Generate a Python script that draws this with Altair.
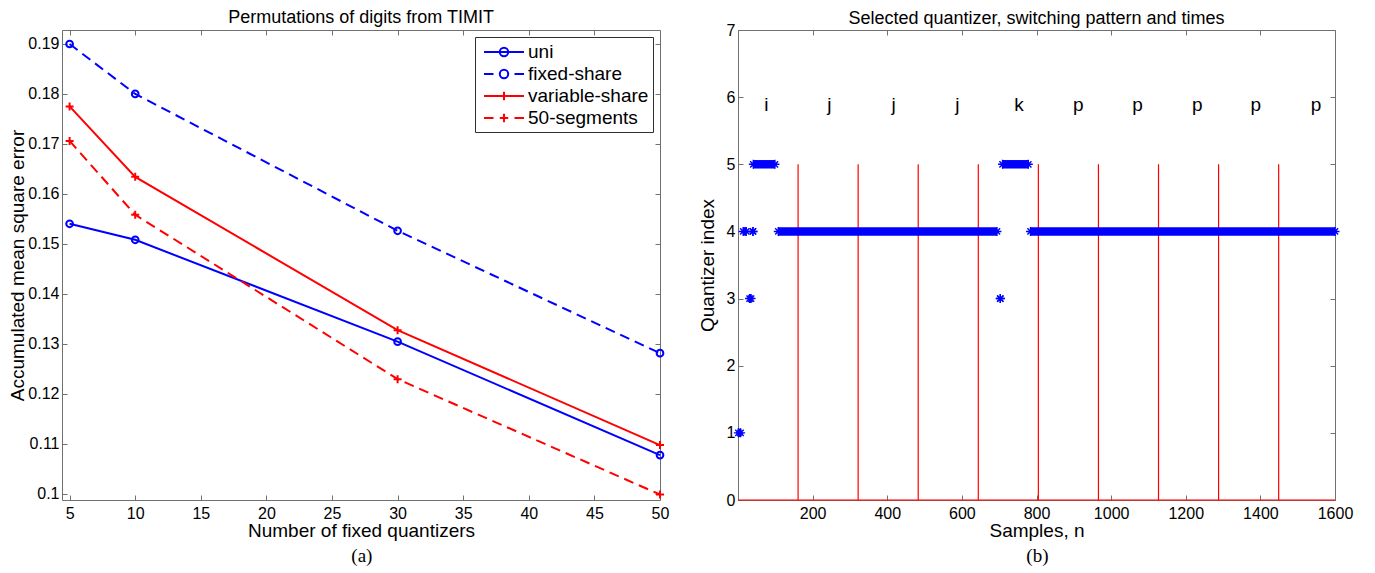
import altair as alt
import pandas as pd

# ---------------- data: panel (a) ----------------
N_QUANT = [5, 10, 30, 50]
SERIES = ["uni", "fixed-share", "variable-share", "50-segments"]
SOLID_SERIES = ["uni", "variable-share"]
DASHED_SERIES = ["fixed-share", "50-segments"]
MSE_UNI = [0.1540, 0.1508, 0.1304, 0.1077]
MSE_FIXED = [0.1900, 0.1800, 0.1526, 0.1281]
MSE_VARIABLE = [0.1775, 0.1634, 0.1327, 0.1097]
MSE_SEG50 = [0.1706, 0.1558, 0.1229, 0.0998]

# ---------------- data: panel (b) ----------------
SWITCH_TIMES = [161, 322, 483, 644, 805, 966, 1127, 1288, 1449]
SWITCH_LEVEL = 5
BASE_SPAN = [0, 1600]
RUN_START = [1, 14, 31, 40, 41, 108, 703, 709, 784]
RUN_END = [7, 22, 35, 40, 99, 694, 703, 778, 1600]
RUN_INDEX = [1, 4, 3, 4, 5, 4, 3, 5, 4]
WORD_POS = [76, 245, 417, 588, 753, 912, 1071, 1231, 1388, 1549]
WORD_LABEL = ["i", "j", "j", "j", "k", "p", "p", "p", "p", "p"]
WORD_LEVEL = 5.8

BLUE = "#0000ff"
RED = "#ff0000"
FRAME = "#707070"
FONT = "Liberation Sans"

df_a = pd.DataFrame({
    "n": N_QUANT * 4,
    "mse": MSE_UNI + MSE_FIXED + MSE_VARIABLE + MSE_SEG50,
    "series": sum([[s] * len(N_QUANT) for s in SERIES], []),
})

color_scale = alt.Scale(domain=SERIES, range=[BLUE, BLUE, RED, RED])
LINE = "M-2,0L2,0"
LINED = "M-2,0L-1.05,0M1.05,0L2,0"
CIRC = "M0.42,0A0.42,0.42 0 1 1 -0.42,0A0.42,0.42 0 1 1 0.42,0"
PLUS = "M-0.42,0L0.42,0M0,-0.42L0,0.42"
shape_scale = alt.Scale(domain=SERIES, range=[LINE + CIRC, LINED + CIRC, LINE + PLUS, LINED + PLUS])


def tick_axis(orient, values, labels=True, fmt=None, title=None, title_pad=0, label_pad=3):
    kw = dict(orient=orient, values=values, offset=-5, tickSize=5, domain=False,
              grid=False, tickColor=FRAME, labelPadding=label_pad, labelFlush=False)
    if labels:
        kw.update(labels=True, title=title, titlePadding=title_pad)
        if fmt:
            kw["format"] = fmt
    else:
        kw.update(labels=False, title=None)
    return alt.Axis(**kw)


XA_VALUES = [5, 10, 15, 20, 25, 30, 35, 40, 45, 50]
YA_VALUES = [0.10, 0.11, 0.12, 0.13, 0.14, 0.15, 0.16, 0.17, 0.18, 0.19]
xa_scale = alt.Scale(domain=[4.42, 50], nice=False, zero=False)
ya_scale = alt.Scale(domain=[0.0987, 0.1928], nice=False, zero=False)


def xa(axis):
    return alt.X("n:Q", scale=xa_scale, axis=axis)


def ya(axis):
    return alt.Y("mse:Q", scale=ya_scale, axis=axis)


def col():
    return alt.Color("series:N", scale=color_scale, legend=None)


base_a = alt.Chart(df_a)
legend_a = base_a.mark_point(size=0, filled=False, strokeWidth=2, opacity=1).encode(
    x=xa(tick_axis("bottom", XA_VALUES, title="Number of fixed quantizers", label_pad=5)),
    y=ya(tick_axis("left", YA_VALUES, fmt="~r", title="Accumulated mean square error", title_pad=0)),
    color=alt.Color("series:N", scale=color_scale, title=None,
                    legend=alt.Legend(orient="top-right", offset=7, title=None)),
    shape=alt.Shape("series:N", scale=shape_scale, title=None,
                    legend=alt.Legend(orient="top-right", offset=7, title=None)),
)
solid_a = base_a.transform_filter(
    alt.FieldOneOfPredicate(field="series", oneOf=SOLID_SERIES)
).mark_line(strokeWidth=2).encode(
    x=xa(tick_axis("top", XA_VALUES, labels=False)),
    y=ya(tick_axis("right", YA_VALUES, labels=False)),
    color=col(),
    detail="series:N",
)
dashed_a = base_a.transform_filter(
    alt.FieldOneOfPredicate(field="series", oneOf=DASHED_SERIES)
).mark_line(strokeWidth=2, strokeDash=[10, 6]).encode(
    x=xa(None), y=ya(None), color=col(), detail="series:N",
)
circles_a = base_a.transform_filter(
    alt.FieldOneOfPredicate(field="series", oneOf=["uni", "fixed-share"])
).mark_point(shape="circle", size=45, filled=False, strokeWidth=2, opacity=1).encode(
    x=xa(None), y=ya(None), color=col(),
)
crosses_a = base_a.transform_filter(
    alt.FieldOneOfPredicate(field="series", oneOf=["variable-share", "50-segments"])
).mark_point(shape="M-1,0L1,0M0,-1L0,1", size=64, filled=False, strokeWidth=2, opacity=1).encode(
    x=xa(None), y=ya(None), color=col(),
)

TITLE_KW = dict(font=FONT, fontSize=18, fontWeight="normal", anchor="middle", frame="group")

panel_a = alt.layer(legend_a, solid_a, dashed_a, circles_a, crosses_a).resolve_axis(
    x="independent", y="independent"
).properties(
    width=598, height=470,
    title=alt.TitleParams("Permutations of digits from TIMIT", offset=3, **TITLE_KW),
)

# ---------------- panel (b) ----------------
df_sw = pd.DataFrame({"t": SWITCH_TIMES, "lvl": [SWITCH_LEVEL] * len(SWITCH_TIMES), "zero": [0] * len(SWITCH_TIMES)})
df_base = pd.DataFrame({"t": [BASE_SPAN[0]], "t2": [BASE_SPAN[1]], "zero": [0]})
df_runs = pd.DataFrame({"t": RUN_START, "t2": RUN_END, "q": RUN_INDEX})
df_ends = pd.DataFrame({"t": RUN_START + RUN_END, "q": RUN_INDEX + RUN_INDEX})
df_words = pd.DataFrame({"t": WORD_POS, "q": [WORD_LEVEL] * len(WORD_POS), "w": WORD_LABEL})

XB_VALUES = [0, 200, 400, 600, 800, 1000, 1200, 1400, 1600]
YB_VALUES = [0, 1, 2, 3, 4, 5, 6, 7]
xb_scale = alt.Scale(domain=[0, 1600], nice=False, zero=False)
yb_scale = alt.Scale(domain=[0, 7], nice=False, zero=False)

xb_bottom = alt.Axis(orient="bottom", values=XB_VALUES, offset=-5, tickSize=5, domain=False,
                     grid=False, tickColor=FRAME, labelPadding=5, title="Samples, n", titlePadding=0,
                     format="d", labelFlush=False,
                     labelExpr="datum.value == 0 ? '' : datum.label")

stems_b = alt.Chart(df_sw).mark_rule(color=RED, strokeWidth=1.2).encode(
    x=alt.X("t:Q", scale=xb_scale, axis=xb_bottom),
    y=alt.Y("zero:Q", scale=yb_scale,
            axis=tick_axis("left", YB_VALUES, title="Quantizer index", title_pad=9)),
    y2="lvl:Q",
)
base_b = alt.Chart(df_base).mark_rule(color=RED, strokeWidth=1.2).encode(
    x=alt.X("t:Q", scale=xb_scale, axis=tick_axis("top", XB_VALUES, labels=False)),
    x2="t2:Q",
    y=alt.Y("zero:Q", scale=yb_scale, axis=tick_axis("right", YB_VALUES, labels=False)),
)
runs_b = alt.Chart(df_runs).mark_rule(color=BLUE, strokeWidth=8.5, strokeCap="butt").encode(
    x=alt.X("t:Q", scale=xb_scale, axis=None),
    x2="t2:Q",
    y=alt.Y("q:Q", scale=yb_scale, axis=None),
)
ASTER = "M-1,0L1,0M0,-1L0,1M-0.7,-0.7L0.7,0.7M-0.7,0.7L0.7,-0.7"
ends_b = alt.Chart(df_ends).mark_point(shape=ASTER, size=81, filled=False, color=BLUE,
                                       strokeWidth=1.4, opacity=1).encode(
    x=alt.X("t:Q", scale=xb_scale, axis=None),
    y=alt.Y("q:Q", scale=yb_scale, axis=None),
)
words_b = alt.Chart(df_words).mark_text(font=FONT, fontSize=19, color="black",
                                        baseline="alphabetic", align="center").encode(
    x=alt.X("t:Q", scale=xb_scale, axis=None),
    y=alt.Y("q:Q", scale=yb_scale, axis=None),
    text="w:N",
)

panel_b = alt.layer(stems_b, base_b, runs_b, ends_b, words_b).resolve_axis(
    x="independent", y="independent"
).properties(
    width=597, height=470,
    title=alt.TitleParams("Selected quantizer, switching pattern and times", offset=-6, **TITLE_KW),
)

SUB_KW = dict(orient="bottom", anchor="middle", font="Liberation Serif", fontSize=19,
              fontWeight="normal", offset=6)
wrap_a = alt.vconcat(panel_a, title=alt.TitleParams("(a)", dx=23, **SUB_KW)).resolve_scale(
    color="independent", shape="independent"
).resolve_legend(color="independent", shape="independent")
wrap_b = alt.vconcat(panel_b, title=alt.TitleParams("(b)", dx=12, **SUB_KW))

chart = alt.hconcat(wrap_a, wrap_b, spacing=27).resolve_scale(
    color="independent", shape="independent"
).resolve_legend(color="independent", shape="independent").properties(
    padding=0
).configure(
    font=FONT,
).configure_view(
    stroke=FRAME, strokeWidth=1,
).configure_axis(
    labelFont=FONT, labelFontSize=16, labelColor="black",
    titleFont=FONT, titleFontSize=19, titleFontWeight="normal", titleColor="black",
).configure_legend(
    labelFont=FONT, labelFontSize=19, labelColor="black",
    strokeColor="#303030", fillColor="white", padding=4, cornerRadius=0,
    symbolSize=400, symbolStrokeWidth=2, rowPadding=1, symbolOffset=14, labelOffset=13,
    labelLimit=300,
)

chart.save("out.html", embed_options={"renderer": "svg", "actions": False})
